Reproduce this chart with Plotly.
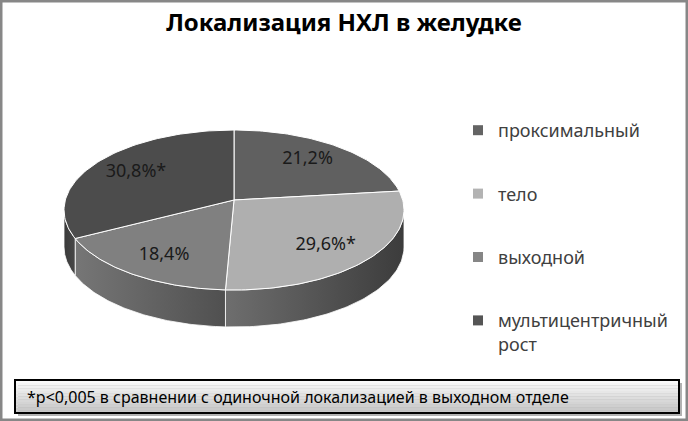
import numpy as np
import plotly.graph_objects as go

# data
title = 'Локализация НХЛ в желудке'
labels = ['проксимальный', 'тело', 'выходной', 'мультицентричный<br>рост']
values = [21.2, 29.6, 18.4, 30.8]
value_text = ['21,2%', '29,6%*', '18,4%', '30,8%*']
footnote = '*p<0,005 в сравнении с одиночной локализацией в выходном отделе'

# grey shades of the slices
legend_colors = ['#646464', '#b3b3b3', '#868686', '#555555']
top_colors = ['#606060', '#afafaf', '#808080', '#4c4c4c']
side_colors = [('#505050', '#404040'), ('#6e6e6e', '#3c3c3c'),
               ('#767676', '#505050'), ('#3a3a3a', '#484848')]

W, H = 688, 421
CX, CY = 234, 210      # centre of the top face ellipse (px)
APEX_Y = 200           # slices meet a bit higher (perspective)
RX, RY = 170, 80       # ellipse radii
DEPTH = 37             # height of the 3d wall
FONT = 'Noto Sans'


def rim(a0, a1, dy=0, n=80):
    # angles clockwise from 12 o'clock, in degrees
    t = np.radians(np.linspace(a0, a1, n))
    return list(CX + RX * np.sin(t)), list(CY - RY * np.cos(t) + dy)


edges = np.concatenate([[0], np.cumsum(values)]) / sum(values) * 360

fig = go.Figure()

# front wall of the pie
for i in range(len(values)):
    a0, a1 = max(edges[i], 90), min(edges[i + 1], 270)
    if a1 <= a0:
        continue
    xt, yt = rim(a0, a1)
    xb, yb = rim(a1, a0, DEPTH)
    c0, c1 = side_colors[i]
    fig.add_trace(go.Scatter(
        x=xt + xb + [xt[0]], y=yt + yb + [yt[0]],
        mode='lines', fill='toself',
        line={'color': 'rgba(255,255,255,0.8)', 'width': 1},
        fillgradient={'type': 'horizontal', 'colorscale': [[0, c0], [1, c1]]},
        hoverinfo='skip', showlegend=False, legendgroup=str(i)
    ))

# top face
for i in range(len(values)):
    xs, ys = rim(edges[i], edges[i + 1])
    fig.add_trace(go.Scatter(
        x=[CX] + xs + [CX], y=[APEX_Y] + ys + [APEX_Y],
        mode='lines', fill='toself', fillcolor=top_colors[i],
        line={'color': 'white', 'width': 1},
        hoverinfo='text', hovertext=labels[i].replace('<br>', ' ') + ': ' + value_text[i],
        showlegend=False, legendgroup=str(i)
    ))

# value labels
mid = np.radians((edges[:-1] + edges[1:]) / 2)
fig.add_trace(go.Scatter(
    x=CX + 0.7 * RX * np.sin(mid), y=CY - 3 - 0.75 * RY * np.cos(mid),
    mode='text', text=value_text,
    textfont={'family': FONT, 'size': 18, 'color': '#1a1a1a'},
    hoverinfo='skip', showlegend=False
))

# legend entries
for i in range(len(values)):
    fig.add_trace(go.Scatter(
        x=[None], y=[None], mode='markers', name=labels[i],
        marker={'symbol': 'square', 'size': 10, 'color': legend_colors[i]},
        legendgroup=str(i)
    ))

shapes = []
# footnote box: shadow, vertical gradient, black frame
bx0, bx1, by0, by1 = 15, 679, 380, 413
shapes.append(dict(type='rect', xref='x', yref='y', x0=bx0 + 3, x1=bx1 + 3, y0=by0 + 3, y1=by1 + 3,
                   fillcolor='rgba(0,0,0,0.3)', line={'width': 0}, layer='below'))
steps = 12
for k in range(steps):
    g = int(250 - (250 - 198) * k / (steps - 1))
    shapes.append(dict(type='rect', xref='x', yref='y', x0=bx0, x1=bx1,
                       y0=by0 + (by1 - by0) * k / steps, y1=by0 + (by1 - by0) * (k + 1) / steps,
                       fillcolor='rgb({0},{0},{0})'.format(g), line={'width': 0}, layer='below'))
shapes.append(dict(type='rect', xref='x', yref='y', x0=bx0, x1=bx1, y0=by0, y1=by1,
                   line={'color': 'black', 'width': 2}, layer='below'))
# outer frame
shapes.append(dict(type='rect', xref='paper', yref='paper', x0=0, x1=1, y0=0, y1=1,
                   line={'color': '#878787', 'width': 5}))

fig.update_layout(
    width=W, height=H,
    margin={'l': 0, 'r': 0, 't': 0, 'b': 0},
    paper_bgcolor='white', plot_bgcolor='white',
    title={'text': '<b>' + title + '</b>', 'x': 0.5, 'xanchor': 'center',
           'y': 1 - 23 / H, 'yanchor': 'middle',
           'font': {'family': FONT, 'size': 24, 'color': 'black'}},
    xaxis={'range': [0, W], 'visible': False, 'fixedrange': True},
    yaxis={'range': [H, 0], 'visible': False, 'fixedrange': True},
    legend={'x': 458 / W, 'xanchor': 'left', 'y': 1 - 112 / H, 'yanchor': 'top',
            'valign': 'top', 'tracegroupgap': 37, 'bgcolor': 'rgba(0,0,0,0)',
            'font': {'family': FONT, 'size': 18, 'color': '#404040'}},
    shapes=shapes,
    annotations=[dict(text=footnote, xref='x', yref='y', x=25, y=(by0 + by1) / 2,
                      xanchor='left', yanchor='middle', showarrow=False,
                      font={'family': FONT, 'size': 16, 'color': 'black'})],
    showlegend=True,
    hovermode='closest'
)

fig.write_html('out.html', config={'displayModeBar': False},
               post_script="document.body.style.margin='0';")
